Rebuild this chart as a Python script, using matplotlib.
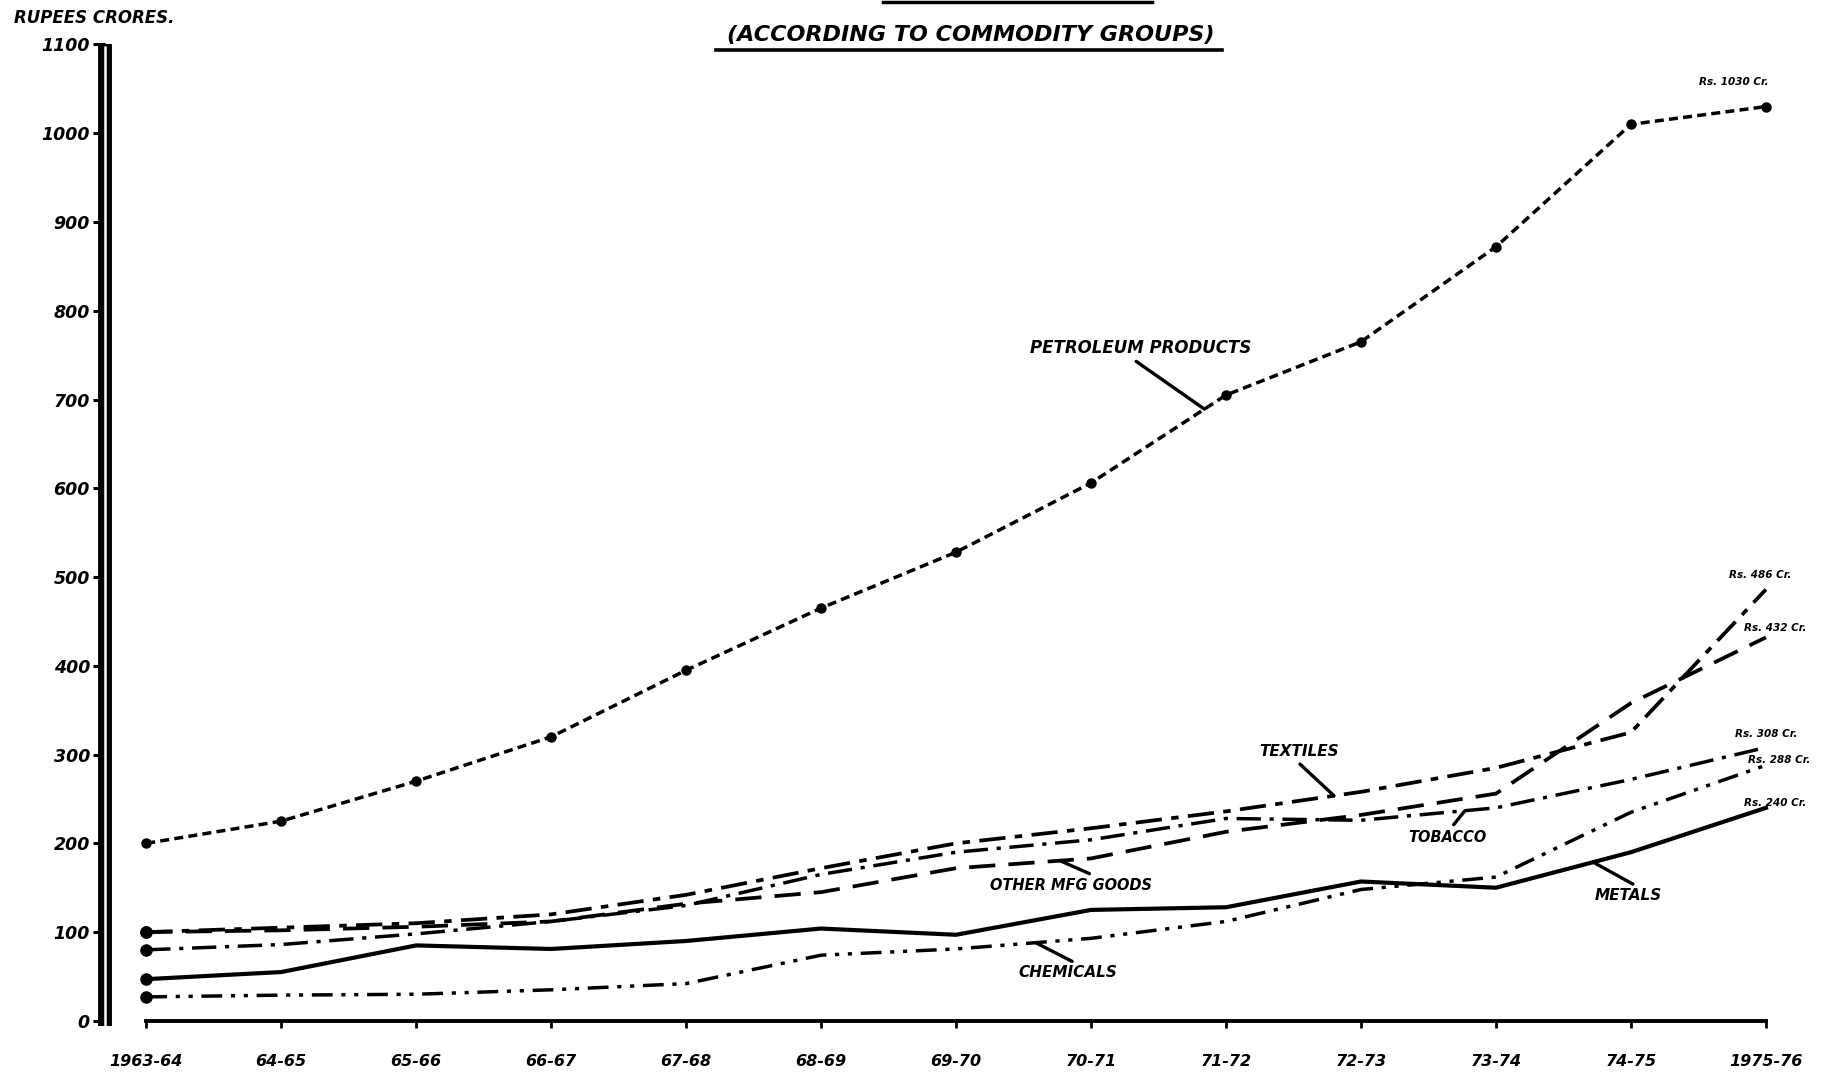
import numpy as np
import matplotlib
matplotlib.use("Agg")
import matplotlib.pyplot as plt
from matplotlib.lines import Line2D

# ---------------- data ----------------
years = ["1963-64", "64-65", "65-66", "66-67", "67-68", "68-69", "69-70",
         "70-71", "71-72", "72-73", "73-74", "74-75", "1975-76"]
petroleum = [200, 225, 270, 320, 395, 465, 528, 606, 705, 765, 872, 1010, 1030]
textiles  = [100, 105, 110, 120, 142, 172, 200, 217, 236, 258, 285, 325, 486]
other_mfg = [100, 102, 106, 112, 132, 145, 172, 183, 213, 232, 256, 358, 432]
tobacco   = [80, 86, 98, 112, 130, 165, 190, 204, 228, 226, 240, 272, 308]
metals    = [47, 55, 85, 81, 90, 104, 97, 125, 128, 157, 150, 190, 240]
chemicals = [27, 29, 30, 35, 42, 74, 81, 93, 112, 148, 162, 235, 288]
y_ticks = list(range(0, 1101, 100))
end_labels = ["Rs. 1030 Cr.", "Rs. 486 Cr.", "Rs. 432 Cr.",
              "Rs. 308 Cr.", "Rs. 288 Cr.", "Rs. 240 Cr."]

FONT = dict(family="DejaVu Sans", weight="bold", style="italic", color="black")

W, H = 1568.0, 921.0  # reference display basis for layout
fig = plt.figure(figsize=(18.34, 10.77), dpi=100)
fig.patch.set_facecolor("white")

step = 115.4
x_left_px, x_right_px = 90, 1535
xl = (x_left_px - 125) / step
xr = (x_right_px - 125) / step
ax = fig.add_axes([x_left_px / W, 1 - 873 / H, (x_right_px - x_left_px) / W, (873 - 38) / H])
ax.set_xlim(xl, xr)
ax.set_ylim(0, 1100)
for s in ax.spines.values():
    s.set_visible(False)

x = np.arange(len(years))

# ---------------- series ----------------
ax.plot(x, petroleum, color="k", lw=2.5, linestyle=(0, (2.6, 1.5)),
        marker="o", markersize=6.5, clip_on=False, zorder=3)
ax.plot(x, textiles, color="k", lw=2.7, linestyle=(0, (7, 2.5, 2, 2.5)),
        clip_on=False, zorder=3)
ax.plot(x, other_mfg, color="k", lw=2.7, linestyle=(0, (7, 3.5)),
        clip_on=False, zorder=3)
ax.plot(x, tobacco, color="k", lw=2.5, linestyle=(0, (7, 2.5, 1.2, 2.5)),
        clip_on=False, zorder=3)
ax.plot(x, chemicals, color="k", lw=2.5, linestyle=(0, (6, 2.5, 1.2, 2.5, 1.2, 2.5)),
        clip_on=False, zorder=3)
ax.plot(x, metals, color="k", lw=3.0, linestyle="-", clip_on=False, zorder=3)

# start dots
for s in (textiles, other_mfg, tobacco, metals, chemicals):
    ax.plot([x[0]], [s[0]], "o", color="k", markersize=8, clip_on=False, zorder=4)

# x baseline
ax.plot([x[0], x[-1]], [0, 0], color="k", lw=2.8, clip_on=False, zorder=3)

# y axis: thick double line
ax.plot([xl, xl], [-6, 1100], color="k", lw=10, solid_capstyle="butt", clip_on=False, zorder=5)
ax.plot([xl, xl], [-6, 1098], color="white", lw=1.8, solid_capstyle="butt", clip_on=False, zorder=6)

# ticks
ax.set_yticks(y_ticks)
ax.set_yticklabels([str(v) for v in y_ticks], fontdict=dict(size=12.5, weight="bold", style="italic"))
ax.tick_params(axis="y", direction="out", length=9, width=2.2, pad=2)
ax.set_xticks(x)
ax.set_xticklabels(years, fontdict=dict(size=11.5, weight="bold", style="italic"))
ax.tick_params(axis="x", direction="out", length=5, width=2, pad=19)

# ---------------- annotations ----------------
def pointer(text, txy, series, xp, relpos, size=11):
    yp = float(np.interp(xp, x, series))
    ax.annotate(text, xy=(xp, yp), xytext=txy, textcoords="data",
                ha="center", va="center", fontsize=size, **FONT,
                arrowprops=dict(arrowstyle="-", lw=2.4, color="k",
                                relpos=relpos, shrinkA=2, shrinkB=0),
                annotation_clip=False, zorder=7)

pointer("PETROLEUM PRODUCTS", (7.37, 758), petroleum, 7.84, (0.45, 0.0), size=12)
pointer("TEXTILES", (8.54, 303), textiles, 8.80, (0.45, 0.0))
pointer("OTHER MFG GOODS", (6.85, 153), other_mfg, 6.77, (0.67, 1.0), size=10.5)
pointer("TOBACCO", (9.64, 207), tobacco, 9.77, (0.53, 1.0), size=10.5)
pointer("METALS", (10.98, 141), metals, 10.72, (0.68, 1.0))
pointer("CHEMICALS", (6.83, 54), chemicals, 6.59, (0.62, 1.0))

# end value labels
end_pos = [(11.76, 1058), (11.96, 502), (12.07, 443), (12.0, 323), (12.1, 294), (12.07, 246)]
for lab, (ex, ey) in zip(end_labels, end_pos):
    ax.text(ex, ey, lab, ha="center", va="center", fontsize=7.5, **FONT, clip_on=False)

# ---------------- titles ----------------
fig.text(12 / W, 1 - 15 / H, "RUPEES CRORES.", ha="left", va="center", fontsize=12, **FONT)
fig.text(830 / W, 1 - 30 / H, "(ACCORDING TO COMMODITY GROUPS)", ha="center", va="center",
         fontsize=16, **FONT)
fig.add_artist(Line2D([612 / W, 1045 / W], [1 - 43 / H, 1 - 43 / H], color="k", lw=2.6))
fig.add_artist(Line2D([755 / W, 985 / W], [1 - 1.5 / H, 1 - 1.5 / H], color="k", lw=2.5))

fig.savefig("out.png", dpi=100, facecolor="white")
